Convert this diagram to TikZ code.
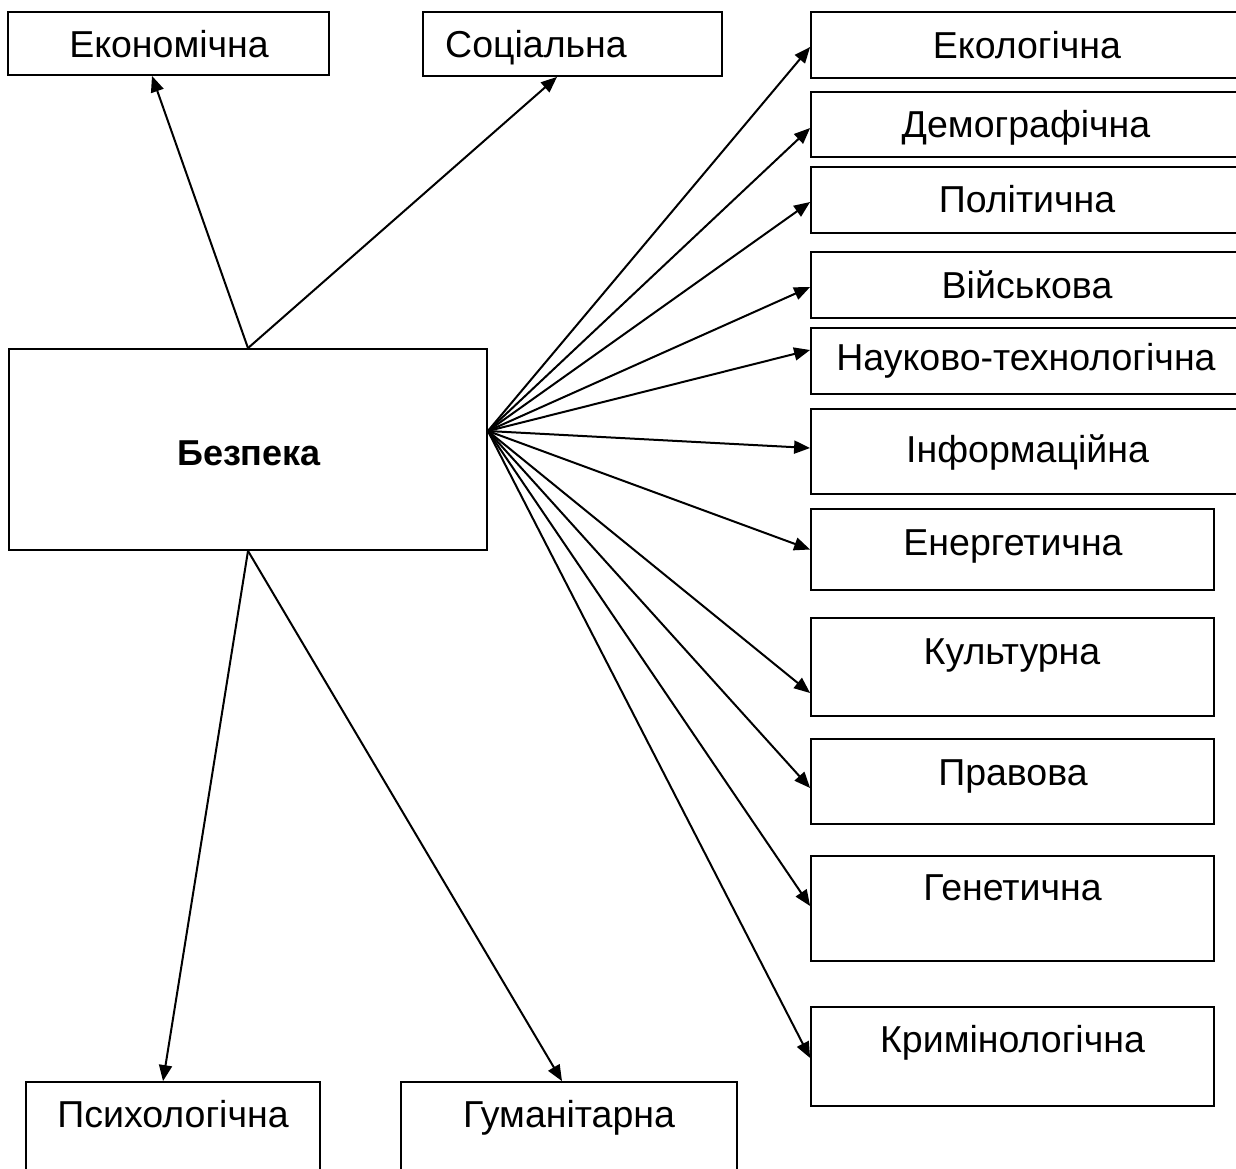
\documentclass[tikz,border=0pt]{standalone}
\usepackage{fontspec}
\setmainfont{Liberation Sans}
\usetikzlibrary{arrows.meta}
\begin{document}
\begin{tikzpicture}[x=1pt,y=-1pt,
  box/.style={draw, line width=1.8pt, inner sep=0pt},
  lbl/.style={inner sep=0pt, text height=26.7pt, text depth=0pt, font=\fontsize{37.5}{44}\selectfont},
  arr/.style={-{Triangle[length=16pt,width=13pt]}, line width=2pt}]
\useasboundingbox (0,0) rectangle (1236,1168);
\clip (0,0) rectangle (1236,1168);
\fill[white] (0,0) rectangle (1236,1168);

% boxes
\node[box, minimum width=321pt, minimum height=63pt] (eko) at (168.5,43.5) {};
\node[box, minimum width=299pt, minimum height=64pt] (soc) at (572.5,44) {};
\node[box, minimum width=439pt, minimum height=66pt] (ekol) at (1030.5,45) {};
\node[box, minimum width=439pt, minimum height=65pt] (demo) at (1030.5,124.5) {};
\node[box, minimum width=439pt, minimum height=66pt] (polit) at (1030.5,200) {};
\node[box, minimum width=439pt, minimum height=66pt] (viysk) at (1030.5,285) {};
\node[box, minimum width=439pt, minimum height=66pt] (nauk) at (1030.5,361) {};
\node[box, minimum width=439pt, minimum height=85pt] (inform) at (1030.5,451.5) {};
\node[box, minimum width=403pt, minimum height=81pt] (energ) at (1012.5,549.5) {};
\node[box, minimum width=403pt, minimum height=98pt] (kult) at (1012.5,667) {};
\node[box, minimum width=403pt, minimum height=85pt] (prav) at (1012.5,781.5) {};
\node[box, minimum width=403pt, minimum height=105pt] (genet) at (1012.5,908.5) {};
\node[box, minimum width=403pt, minimum height=99pt] (krim) at (1012.5,1056.5) {};
\node[box, minimum width=478pt, minimum height=201pt] (bez) at (248,449.5) {};
\node[box, minimum width=294pt, minimum height=118pt] (psy) at (173,1141) {};
\node[box, minimum width=336pt, minimum height=118pt] (hum) at (569,1141) {};

% texts
\node[lbl] (teko) at (169,44) {Економічна};
\node[lbl] (tsoc) at (536,44) {Соціальна};
\node[lbl] (tekol) at (1027,45) {Екологічна};
\node[lbl] (tdemo) at (1026,124.5) {Демографічна};
\node[lbl] (tpolit) at (1027,199.5) {Політична};
\node[lbl] (tviysk) at (1027,285.5) {Військова};
\node[lbl] (tnauk) at (1026,357.5) {Науково-технологічна};
\node[lbl] (tinform) at (1027.5,449) {Інформаційна};
\node[lbl] (tenerg) at (1013,542) {Енергетична};
\node[lbl] (tkult) at (1012,651) {Культурна};
\node[lbl] (tprav) at (1013,772) {Правова};
\node[lbl] (tgenet) at (1012.5,887.5) {Генетична};
\node[lbl] (tkrim) at (1012.5,1039.5) {Кримінологічна};
\node[lbl] (tpsy) at (173,1114.5) {Психологічна};
\node[lbl] (thum) at (569,1114.5) {Гуманітарна};
\node[lbl, text height=26pt, font=\bfseries\fontsize{36}{43}\selectfont] (tbez) at (249,452) {Безпека};

% connectors
\coordinate (hub) at ([yshift=18.5pt]bez.east);
\draw[arr] (bez.north) -- ([xshift=-16.5pt]eko.south);
\draw[arr] (bez.north) -- ([xshift=-15.5pt]soc.south);
\draw[arr] (bez.south) -- ([xshift=-10pt]psy.north);
\draw[arr] (bez.south) -- ([xshift=-7pt]hum.north);
\draw[arr] (hub) -- ([yshift=-2pt]ekol.west);
\draw[arr] (hub) -- ([yshift=-3.5pt]demo.west);
\draw[arr] (hub) -- ([yshift=-2pt]polit.west);
\draw[arr] (hub) -- ([yshift=-2pt]viysk.west);
\draw[arr] (hub) -- ([yshift=11pt]nauk.west);
\draw[arr] (hub) -- ([yshift=3.5pt]inform.west);
\draw[arr] (hub) -- (energ.west);
\draw[arr] (hub) -- ([yshift=-26pt]kult.west);
\draw[arr] (hub) -- ([yshift=-6.5pt]prav.west);
\draw[arr] (hub) -- ([yshift=2.5pt]genet.west);
\draw[arr] (hub) -- ([yshift=-1.5pt]krim.west);
\end{tikzpicture}
\end{document}
